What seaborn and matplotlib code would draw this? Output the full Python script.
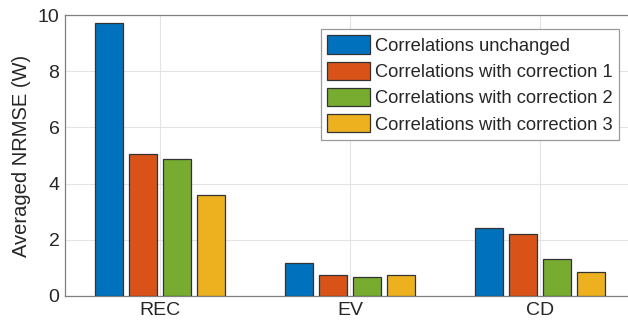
import numpy as np
import pandas as pd
import matplotlib
matplotlib.use("Agg")
import matplotlib.pyplot as plt
import seaborn as sns

# Veriler
cases = ["REC", "EV", "CD"]
series = ["Correlations unchanged",
          "Correlations with correction 1",
          "Correlations with correction 2",
          "Correlations with correction 3"]
unchanged = [9.70, 1.16, 2.42]
corr1 = [5.04, 0.74, 2.22]
corr2 = [4.89, 0.69, 1.33]
corr3 = [3.59, 0.76, 0.84]
colors = ["#0072BD", "#D95319", "#77AC30", "#EDB120"]

rows = []
for name, vals in zip(series, [unchanged, corr1, corr2, corr3]):
    for c, v in zip(cases, vals):
        rows.append({"case": c, "series": name, "nrmse": v})
df = pd.DataFrame(rows)

sns.set_theme(style="white")
plt.rcParams["font.family"] = ["Liberation Sans", "DejaVu Sans"]

fig = plt.figure(figsize=(6.28, 3.27), dpi=100)
ax = fig.add_axes([65 / 628, 31 / 327, 570 / 628, 281 / 327])

sns.barplot(data=df, x="case", y="nrmse", hue="series", order=cases,
            hue_order=series, palette=colors, width=0.72, gap=0.19,
            edgecolor="#333333", linewidth=0.9, saturation=1, ax=ax,
            zorder=3)

ax.set_xlim(-0.5, 2.5)
ax.set_ylim(0, 10)
ax.set_yticks([0, 2, 4, 6, 8, 10])
ax.set_xlabel("")
ax.set_ylabel("Averaged NRMSE (W)", fontsize=14.5, color="#262626", labelpad=5)
ax.grid(True, color="#e3e3e3", linewidth=0.8, zorder=0)
ax.set_axisbelow(True)
ax.tick_params(axis="both", direction="in", length=3, color="#808080",
               labelsize=14, labelcolor="#262626", pad=4)
for s in ax.spines.values():
    s.set_color("#808080")
    s.set_linewidth(0.9)

handles, labels = ax.get_legend_handles_labels()
leg = ax.legend(handles, labels, loc="upper left",
                bbox_to_anchor=(256 / 570, 1 - 14 / 281),
                fontsize=13.2, frameon=True, fancybox=False, framealpha=1,
                edgecolor="#9a9a9a", handlelength=2.3, handleheight=1.15,
                handletextpad=0.28, labelspacing=0.38, borderpad=0.35,
                borderaxespad=0)
leg.get_frame().set_linewidth(0.9)
for t in leg.get_texts():
    t.set_color("#262626")

fig.savefig("out.png", dpi=100)
